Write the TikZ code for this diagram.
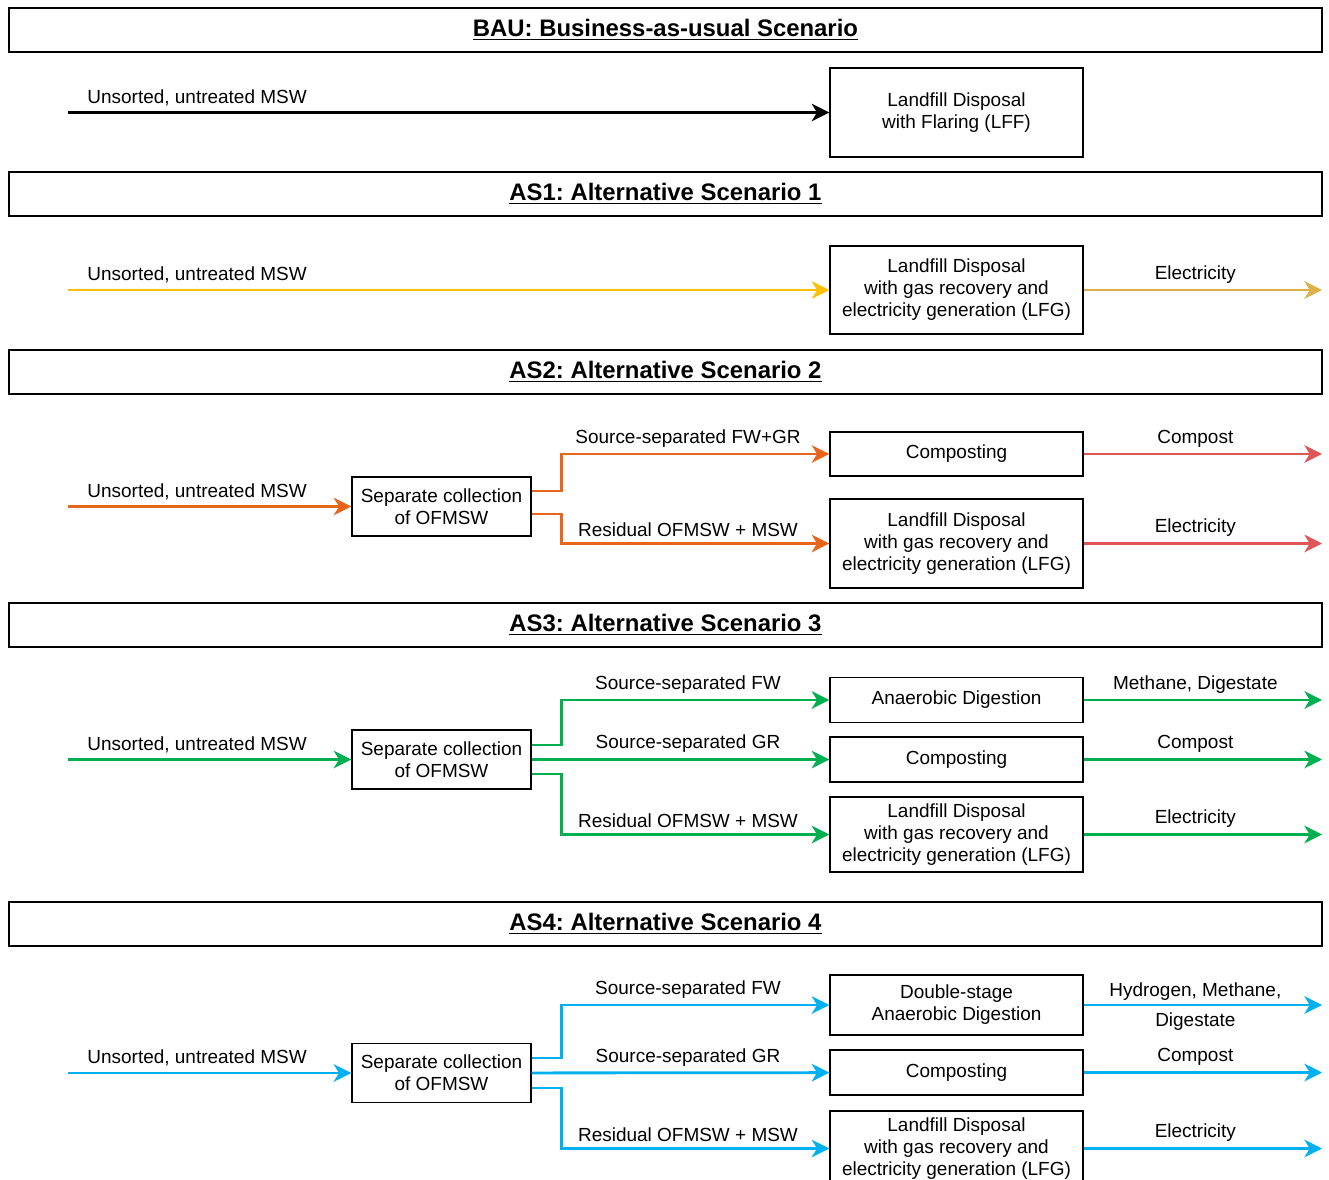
\documentclass[tikz,border=0pt]{standalone}
\usepackage{fontspec}
\setmainfont{Liberation Sans}
\usetikzlibrary{arrows.meta}

\definecolor{asoneIn}{HTML}{FFC000}
\definecolor{asoneOut}{HTML}{DDB048}
\definecolor{astwoIn}{HTML}{E8661C}
\definecolor{astwoOut}{HTML}{DE5656}
\definecolor{asthree}{HTML}{00B050}
\definecolor{asfour}{HTML}{00B0F0}

\begin{document}
\frenchspacing
\begin{tikzpicture}[x=0.02cm, y=-0.02cm]
    % Define styles
    \tikzset{
        scenario/.style={draw, line width=0.8pt, minimum width=26.26cm, minimum height=0.88cm, inner sep=0pt, font=\fontsize{13.6}{16}\selectfont\bfseries},
        process/.style={draw, line width=0.8pt, minimum width=5.06cm, align=center, inner sep=0pt, font=\fontsize{10.8}{12.5}\selectfont},
        sepbox/.style={process, minimum width=3.58cm, minimum height=1.18cm},
        flow/.style={-{Stealth[length=10pt, width=10pt, inset=3pt]}, line width=1.6pt},
        lbl/.style={above=3pt, inner sep=0pt, text=black, font=\fontsize{10.8}{12.5}\selectfont},
        inlbl/.style={lbl, pos=0, anchor=south west, xshift=0.36cm}
    }
    \useasboundingbox (0,0) rectangle (1329,1180);

    % BAU: business-as-usual
    \node[scenario] (bau) at (665.5,30) {\underline{BAU: Business-as-usual Scenario}};
    \node[process, minimum height=1.78cm] (lff) at (956.5,112.5) {Landfill Disposal\\with Flaring (LFF)};
    \coordinate (bauin) at (68,112.5);
    \draw[flow, black] (bauin) -- (lff) node[inlbl] (baumsw) {Unsorted, untreated MSW};

    % AS1: landfill with gas recovery
    \node[scenario] (as1) at (665.5,194) {\underline{AS1: Alternative Scenario 1}};
    \node[process, minimum height=1.76cm] (lfg1) at (956.5,290) {Landfill Disposal\\with gas recovery and\\electricity generation (LFG)};
    \coordinate (as1in) at (68,290);
    \coordinate (as1out) at (1322,290);
    \draw[flow, asoneIn] (as1in) -- (lfg1) node[inlbl] (as1msw) {Unsorted, untreated MSW};
    \draw[flow, asoneOut] (lfg1) -- (as1out) node[lbl, midway, xshift=-0.15cm] (as1elec) {Electricity};

    % AS2: separate collection, composting + landfill
    \node[scenario] (as2) at (665.5,372) {\underline{AS2: Alternative Scenario 2}};
    \node[sepbox] (sep2) at (441.5,506.5) {Separate collection\\of OFMSW};
    \node[process, minimum height=0.88cm] (comp2) at (956.5,454) {Composting};
    \node[process, minimum height=1.78cm] (lfg2) at (956.5,543.5) {Landfill Disposal\\with gas recovery and\\electricity generation (LFG)};
    \coordinate (as2in) at (68,506.5);
    \coordinate (as2out1) at (1322,454);
    \coordinate (as2out2) at (1322,543.5);
    \draw[flow, astwoIn] (as2in) -- (sep2) node[inlbl] (as2msw) {Unsorted, untreated MSW};
    \draw[flow, astwoIn] ([yshift=0.31cm]sep2.east) -- ++(30,0) |- (comp2.west) node[lbl, pos=0.75, xshift=-0.15cm] (as2fwgr) {Source-separated FW+GR};
    \draw[flow, astwoIn] ([yshift=-0.15cm]sep2.east) -- ++(30,0) |- (lfg2.west) node[lbl, pos=0.75, xshift=-0.15cm] (as2res) {Residual OFMSW + MSW};
    \draw[flow, astwoOut] (comp2) -- (as2out1) node[lbl, midway, xshift=-0.15cm] (as2comp) {Compost};
    \draw[flow, astwoOut] (lfg2) -- (as2out2) node[lbl, midway, xshift=-0.15cm] (as2elec) {Electricity};

    % AS3: anaerobic digestion, composting + landfill
    \node[scenario] (as3) at (665.5,625) {\underline{AS3: Alternative Scenario 3}};
    \node[sepbox] (sep3) at (441.5,759.5) {Separate collection\\of OFMSW};
    \node[process, minimum height=0.9cm] (ad3) at (956.5,700) {Anaerobic Digestion};
    \node[process, minimum height=0.9cm] (comp3) at (956.5,759.5) {Composting};
    \node[process, minimum height=1.5cm] (lfg3) at (956.5,834.5) {Landfill Disposal\\with gas recovery and\\electricity generation (LFG)};
    \coordinate (as3in) at (68,759.5);
    \coordinate (as3out1) at (1322,700);
    \coordinate (as3out2) at (1322,759.5);
    \coordinate (as3out3) at (1322,834.5);
    \draw[flow, asthree] (as3in) -- (sep3) node[inlbl] (as3msw) {Unsorted, untreated MSW};
    \draw[flow, asthree] ([yshift=0.29cm]sep3.east) -- ++(30,0) |- (ad3.west) node[lbl, pos=0.75, xshift=-0.15cm] (as3fw) {Source-separated FW};
    \draw[flow, asthree] (sep3) -- (comp3) node[lbl, midway, xshift=0.15cm] (as3gr) {Source-separated GR};
    \draw[flow, asthree] ([yshift=-0.29cm]sep3.east) -- ++(30,0) |- (lfg3.west) node[lbl, pos=0.75, xshift=-0.15cm] (as3res) {Residual OFMSW + MSW};
    \draw[flow, asthree] (ad3) -- (as3out1) node[lbl, midway, xshift=-0.15cm] (as3meth) {Methane, Digestate};
    \draw[flow, asthree] (comp3) -- (as3out2) node[lbl, midway, xshift=-0.15cm] (as3comp) {Compost};
    \draw[flow, asthree] (lfg3) -- (as3out3) node[lbl, midway, xshift=-0.15cm] (as3elec) {Electricity};

    % AS4: double-stage digestion, composting + landfill
    \node[scenario] (as4) at (665.5,924) {\underline{AS4: Alternative Scenario 4}};
    \node[sepbox] (sep4) at (441.5,1073) {Separate collection\\of OFMSW};
    \node[process, minimum height=1.2cm] (dsad4) at (956.5,1005) {Double-stage\\Anaerobic Digestion};
    \node[process, minimum height=0.9cm] (comp4) at (956.5,1072.5) {Composting};
    \node[process, minimum height=1.5cm] (lfg4) at (956.5,1148.5) {Landfill Disposal\\with gas recovery and\\electricity generation (LFG)};
    \coordinate (as4in) at (68,1073);
    \coordinate (as4out1) at (1322,1005);
    \coordinate (as4out2) at (1322,1072.5);
    \coordinate (as4out3) at (1322,1148.5);
    \draw[flow, asfour] (as4in) -- (sep4) node[inlbl] (as4msw) {Unsorted, untreated MSW};
    \draw[flow, asfour] ([yshift=0.3cm]sep4.east) -- ++(30,0) |- (dsad4.west) node[lbl, pos=0.75, xshift=-0.15cm] (as4fw) {Source-separated FW};
    \draw[flow, asfour] (sep4) -- (comp4) node[lbl, midway, xshift=0.15cm] (as4gr) {Source-separated GR};
    \draw[flow, asfour] ([yshift=-0.3cm]sep4.east) -- ++(30,0) |- (lfg4.west) node[lbl, pos=0.75, xshift=-0.15cm] (as4res) {Residual OFMSW + MSW};
    \draw[flow, asfour] (dsad4) -- (as4out1) node[midway, xshift=-0.15cm, yshift=-1pt, align=center, inner sep=0pt, text=black, font=\fontsize{10.8}{17}\selectfont] (as4hyd) {Hydrogen, Methane,\\Digestate};
    \draw[flow, asfour] (comp4) -- (as4out2) node[lbl, midway, xshift=-0.15cm] (as4comp) {Compost};
    \draw[flow, asfour] (lfg4) -- (as4out3) node[lbl, midway, xshift=-0.15cm] (as4elec) {Electricity};

\end{tikzpicture}
\end{document}
